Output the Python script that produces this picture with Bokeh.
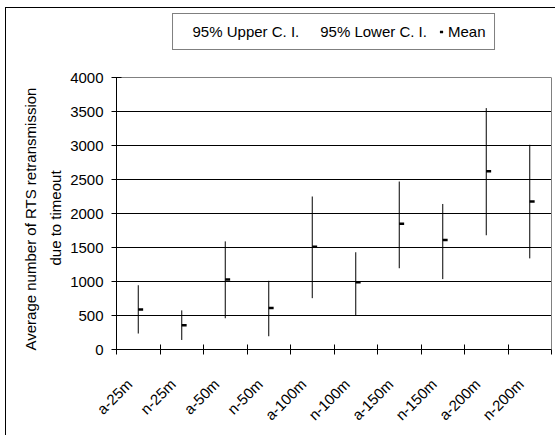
import math
from bokeh.plotting import figure
from bokeh.models import (Range1d, FixedTicker, Legend, LegendItem, ColumnDataSource,
                          LinearAxis, Grid, Title)
from bokeh.transform import dodge
from bokeh.embed import file_html
from bokeh.resources import INLINE

categories = ["a-25m", "n-25m", "a-50m", "n-50m", "a-100m", "n-100m",
              "a-150m", "n-150m", "a-200m", "n-200m"]
upper_ci = [945, 575, 1590, 1010, 2250, 1430, 2470, 2140, 3550, 3010]
lower_ci = [235, 140, 460, 195, 755, 505, 1195, 1035, 1680, 1340]
mean_val = [590, 355, 1030, 610, 1510, 990, 1850, 1610, 2620, 2175]
y_ticks = [0, 500, 1000, 1500, 2000, 2500, 3000, 3500, 4000]
y_title_lines = ["Average number of RTS retransmission", "due to timeout"]
Y_MAX = 4000
Y_VIEW = 5000   # room above the plot area for the legend

FONT = "Liberation Sans"

centers = [i + 0.5 for i in range(len(categories))]
bounds = list(range(len(categories) + 1))
label_pos = [c - 0.2 for c in centers]   # Excel-like anchoring of slanted labels

src = ColumnDataSource(dict(x=centers, up=upper_ci, lo=lower_ci, mean=mean_val))

p = figure(width=550, height=428, output_backend="svg", toolbar_location=None,
           x_range=Range1d(0, len(categories)), y_range=Range1d(0, Y_VIEW),
           min_border_left=110, min_border_right=5, min_border_top=1,
           min_border_bottom=87)
p.styles = {"margin-left": "5px", "margin-top": "7px",
            "border-left": "1px solid #000", "border-top": "1px solid #000"}
p.background_fill_color = "white"
p.border_fill_color = "white"
p.outline_line_color = None

# error bars (95% C.I.)
p.segment(x0="x", y0="lo", x1="x", y1="up", source=src, line_color="black", line_width=1)
# invisible renderers for upper / lower legend entries
r_up = p.scatter(x="x", y="up", source=src, marker="dash", size=5, alpha=0)
r_lo = p.scatter(x="x", y="lo", source=src, marker="dash", size=5, alpha=0)
# mean markers
r_mean = p.scatter(x=dodge("x", 0.055), y="mean", source=src, marker="dash", size=5,
                   line_width=2.5, line_color="black")

# axes
xa = p.xaxis[0]
xa.ticker = FixedTicker(ticks=label_pos, minor_ticks=bounds)
xa.major_label_overrides = {c: lab for c, lab in zip(label_pos, categories)}
xa.major_tick_line_color = None
xa.minor_tick_line_color = "black"
xa.minor_tick_in = 5
xa.minor_tick_out = 5
xa.major_label_orientation = math.pi / 4
xa.major_label_standoff = 26
xa.major_label_text_font = FONT
xa.major_label_text_font_size = "15px"
xa.major_label_text_color = "black"
xa.axis_line_color = "black"

ya = p.yaxis[0]
ya.ticker = FixedTicker(ticks=y_ticks)
ya.bounds = (0, Y_MAX)
ya.major_tick_in = 5
ya.major_tick_out = 5
ya.minor_tick_line_color = None
ya.major_label_standoff = 8
ya.major_label_text_font = FONT
ya.major_label_text_font_size = "15px"
ya.major_label_text_color = "black"
ya.axis_line_color = "black"

# two-line y-axis title, centred on the 0..4000 part of the axis
t2 = Title(text=y_title_lines[1], align="left", offset=84, standoff=8,
           text_font=FONT, text_font_size="15px", text_font_style="normal",
           text_color="black")
t1 = Title(text=y_title_lines[0], align="left", offset=-1, standoff=3,
           text_font=FONT, text_font_size="15px", text_font_style="normal",
           text_color="black")
p.add_layout(t2, "left")
p.add_layout(t1, "left")

# right border of the plot area
ra = LinearAxis(ticker=FixedTicker(ticks=[]), bounds=(0, Y_MAX),
                axis_line_color="#808080", major_tick_line_color=None,
                minor_tick_line_color=None, major_label_standoff=0,
                major_label_text_font_size="0px")
p.add_layout(ra, "right")

p.xgrid.visible = False
p.ygrid.ticker = FixedTicker(ticks=y_ticks[:-1])
p.ygrid.grid_line_color = "black"
p.ygrid.grid_line_width = 1
top_edge = Grid(dimension=1, ticker=FixedTicker(ticks=[Y_MAX]),
                grid_line_color="#808080", grid_line_width=1)
p.add_layout(top_edge)

legend = Legend(items=[
    LegendItem(label="95% Upper C. I.", renderers=[r_up]),
    LegendItem(label="95% Lower C. I.", renderers=[r_lo]),
    LegendItem(label="Mean", renderers=[r_mean]),
], orientation="horizontal", location="top_center", margin=4, padding=9,
    spacing=10, glyph_width=8, glyph_height=17, label_standoff=3, label_height=17,
    label_text_font=FONT, label_text_font_size="15px", label_text_color="black",
    border_line_color="black", border_line_width=1, background_fill_color="white",
    background_fill_alpha=1)
p.add_layout(legend, "center")

open("out.html", "w").write(file_html(p, INLINE))
